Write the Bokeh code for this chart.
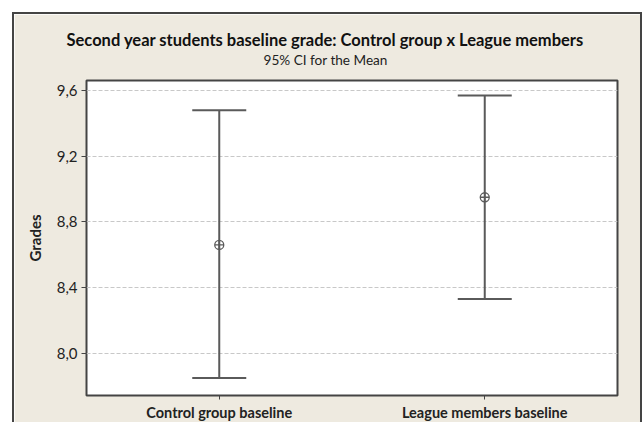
from bokeh.plotting import figure
from bokeh.models import Range1d, FixedTicker, CustomJSTickFormatter, Whisker, TeeHead, ColumnDataSource, Title
from bokeh.embed import file_html
from bokeh.resources import INLINE

groups = ["Control group baseline", "League members baseline"]
means = [8.66, 8.95]
lower = [7.85, 8.33]
upper = [9.48, 9.57]
y_ticks = [8.0, 8.4, 8.8, 9.2, 9.6]

BEIGE = "#EEEAE0"
DARK = "#444444"
BAR = "#5a5a5a"
FONT = "Lato"

src = ColumnDataSource(dict(group=groups, mean=means, lower=lower, upper=upper))

p = figure(width=630, height=410, x_range=groups, y_range=Range1d(7.743, 9.661),
           output_backend="svg", toolbar_location=None, title=None,
           min_border_left=72, min_border_right=27, min_border_top=66, min_border_bottom=29)

p.margin = (12, 0, 0, 12)
p.styles = {"border-top": "2px solid #444444", "border-left": "2px solid #444444",
            "border-right": "2px solid #444444"}

p.border_fill_color = BEIGE
p.background_fill_color = "white"
p.outline_line_color = DARK
p.outline_line_width = 2

spacer = Title(text=" ", text_font=FONT, text_font_size="9px", standoff=0)
sub = Title(text="95% CI for the Mean", align="left", offset=177,
            text_font=FONT, text_font_size="13.6px", text_font_style="normal",
            text_color="#222222", standoff=0)
main = Title(text="Second year students baseline grade: Control group x League members",
             align="left", offset=-20, text_font=FONT, text_font_size="16.5px",
             text_font_style="bold", text_color="#111111", standoff=0)
p.add_layout(spacer, "above")
p.add_layout(sub, "above")
p.add_layout(main, "above")

# grid
p.xgrid.grid_line_color = None
p.ygrid.grid_line_color = "#c8c8c8"
p.ygrid.grid_line_dash = "4 2"
p.ygrid.grid_line_width = 1.2
p.ygrid.ticker = FixedTicker(ticks=y_ticks)

# y axis
p.yaxis.ticker = FixedTicker(ticks=y_ticks)
p.yaxis.formatter = CustomJSTickFormatter(code="return tick.toFixed(1).replace('.', ',');")
p.yaxis.axis_label = "Grades"
p.yaxis.axis_label_text_font = FONT
p.yaxis.axis_label_text_font_style = "bold"
p.yaxis.axis_label_text_font_size = "15px"
p.yaxis.axis_label_text_color = "#222222"
p.yaxis.axis_label_standoff = 10
p.yaxis.major_label_text_font = FONT
p.yaxis.major_label_text_font_size = "15px"
p.yaxis.major_label_text_color = "#222222"
p.yaxis.major_label_standoff = 4
p.yaxis.minor_tick_line_color = None
p.yaxis.major_tick_in = 0
p.yaxis.major_tick_out = 5
p.yaxis.major_tick_line_color = DARK
p.yaxis.axis_line_color = None

# x axis
p.xaxis.major_label_text_font = FONT
p.xaxis.major_label_text_font_style = "bold"
p.xaxis.major_label_text_font_size = "14.5px"
p.xaxis.major_label_text_color = "#222222"
p.xaxis.major_label_standoff = 4
p.xaxis.major_tick_in = 0
p.xaxis.major_tick_out = 4
p.xaxis.major_tick_line_color = DARK
p.xaxis.axis_line_color = None

# CI whiskers
w = Whisker(base="group", lower="lower", upper="upper", source=src,
            line_color=BAR, line_width=2,
            upper_head=TeeHead(size=54, line_color=BAR, line_width=2),
            lower_head=TeeHead(size=54, line_color=BAR, line_width=2))
p.add_layout(w)

p.scatter("group", "mean", source=src, marker="circle_cross", size=9,
          fill_color=None, line_color=BAR, line_width=1.3)

open("out.html", "w").write(file_html(p, INLINE))
